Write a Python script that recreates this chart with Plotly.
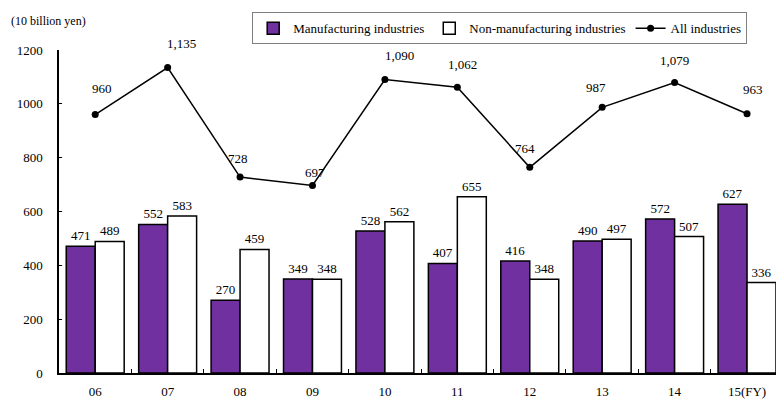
import plotly.graph_objects as go

years = ["06", "07", "08", "09", "10", "11", "12", "13", "14", "15(FY)"]
manufacturing = [471, 552, 270, 349, 528, 407, 416, 490, 572, 627]
non_manufacturing = [489, 583, 459, 348, 562, 655, 348, 497, 507, 336]
all_industries = [960, 1135, 728, 697, 1090, 1062, 764, 987, 1079, 963]
y_ticks = [0, 200, 400, 600, 800, 1000, 1200]

# style: nudges of the line labels (px)
label_xshift = [7, 14, -2, 3, 15, 5, -5, -6, 0, 6]
label_yshift = [26, 24, 19, 13, 24, 23, 19, 20, 22, 24]

FONT = "Liberation Serif"
PURPLE = "#7030A0"

fig = go.Figure()
fig.add_trace(go.Bar(
    x=years, y=manufacturing, name="Manufacturing industries",
    marker=dict(color=PURPLE, line=dict(color="black", width=1.5)),
    text=[str(v) for v in manufacturing], textposition="outside",
    textfont=dict(family=FONT, size=13, color="black"), cliponaxis=False,
))
fig.add_trace(go.Bar(
    x=years, y=non_manufacturing, name="Non-manufacturing industries",
    marker=dict(color="white", line=dict(color="black", width=1.5)),
    text=[str(v) for v in non_manufacturing], textposition="outside",
    textfont=dict(family=FONT, size=13, color="black"), cliponaxis=False,
))
fig.add_trace(go.Scatter(
    x=years, y=all_industries, name="All industries", mode="lines+markers",
    line=dict(color="black", width=1.5),
    marker=dict(color="black", size=7), cliponaxis=False,
))

for i, v in enumerate(all_industries):
    fig.add_annotation(
        x=i, y=v, text=f"{v:,}", showarrow=False,
        xshift=label_xshift[i], yshift=label_yshift[i],
        font=dict(family=FONT, size=13, color="black"),
    )

fig.add_annotation(
    xref="paper", yref="paper", x=-0.07, y=1.09, xanchor="left", yanchor="middle",
    text="(10 billion yen)", showarrow=False,
    font=dict(family=FONT, size=12, color="black"),
)

fig.update_layout(
    width=776, height=408,
    margin=dict(l=59, r=0, t=50, b=35, autoexpand=False),
    paper_bgcolor="white", plot_bgcolor="white",
    barmode="group", bargap=0.2, bargroupgap=0,
    font=dict(family=FONT, size=13, color="black"),
    showlegend=True,
    legend=dict(
        orientation="h", xref="container", yref="container",
        x=0.325, y=0.97, xanchor="left", yanchor="top",
        bordercolor="#808080", borderwidth=1, bgcolor="white",
        font=dict(family=FONT, size=13, color="black"),
        itemwidth=30, tracegroupgap=0,
    ),
)
fig.update_xaxes(
    type="category", range=[-0.5, 9.4], automargin=False,
    showline=True, linecolor="black", linewidth=1.5,
    ticks="inside", tickson="boundaries", ticklen=4, tickcolor="black",
    ticklabelstandoff=6,
    showgrid=False, tickfont=dict(family=FONT, size=13),
)
fig.update_yaxes(
    range=[0, 1200], tickvals=y_ticks, ticktext=[str(t) for t in y_ticks],
    automargin=False,
    showline=True, linecolor="black", linewidth=1.5,
    ticks="inside", ticklen=3, tickcolor="black",
    ticklabelstandoff=12,
    showgrid=False, zeroline=False, tickfont=dict(family=FONT, size=13),
)

fig.write_html(
    "out.html",
    config={"displayModeBar": False},
    post_script="document.body.style.margin='0';document.body.style.overflow='hidden';",
)
